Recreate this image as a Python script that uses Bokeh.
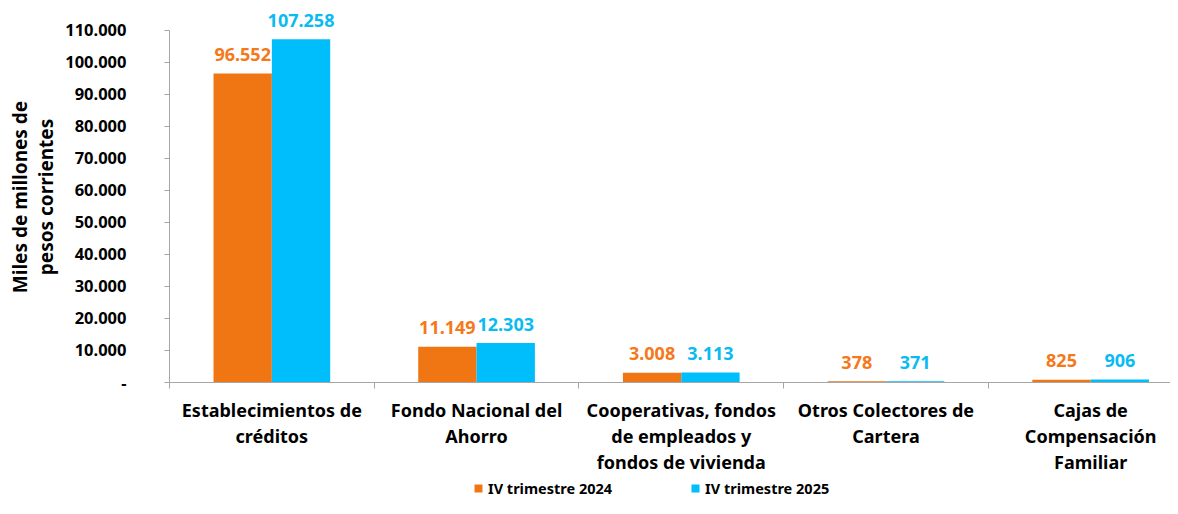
from bokeh.plotting import figure
from bokeh.layouts import column
from bokeh.models import Range1d, FixedTicker, Legend, LegendItem, ColumnDataSource
from bokeh.transform import dodge
from bokeh.core.properties import value
from bokeh.embed import file_html
from bokeh.resources import INLINE

categories = [
    "Establecimientos de\ncréditos",
    "Fondo Nacional del\nAhorro",
    "Cooperativas, fondos\nde empleados y\nfondos de vivienda",
    "Otros Colectores de\nCartera",
    "Cajas de\nCompensación\nFamiliar",
]
series_names = ["IV trimestre 2024", "IV trimestre 2025"]
values_2024 = [96552, 11149, 3008, 378, 825]
values_2025 = [107258, 12303, 3113, 371, 906]
y_ticks = [0, 10000, 20000, 30000, 40000, 50000, 60000, 70000, 80000, 90000, 100000, 110000]
y_tick_labels = ["-", "10.000", "20.000", "30.000", "40.000", "50.000", "60.000",
                 "70.000", "80.000", "90.000", "100.000", "110.000"]
y_title = "Miles de millones de\npesos corrientes"

FONT = "Noto Sans"
ORANGE = "#F07614"
BLUE = "#00BDFB"
ORANGE_TXT = "#F5781A"
BLUE_TXT = "#0ABBF2"
AXIS_GRAY = "#A6A6A6"


def fmt(v):
    return f"{v:,}".replace(",", ".")


xs = [i + 0.5 for i in range(len(categories))]
src = ColumnDataSource(dict(
    x=xs,
    v24=values_2024,
    v25=values_2025,
    l24=[fmt(v) for v in values_2024],
    l25=[fmt(v) for v in values_2025],
))

p = figure(width=1170, height=477,
           x_range=Range1d(0, 4.89), y_range=Range1d(0, 115900),
           output_backend="svg", toolbar_location=None,
           min_border_left=169, min_border_right=0,
           min_border_top=11, min_border_bottom=93)
p.xgrid.visible = False
p.ygrid.visible = False
p.outline_line_color = None
p.background_fill_color = "white"

BW = 0.285
p.vbar(x=dodge("x", -BW / 2, range=p.x_range), top="v24", width=BW,
       color=ORANGE, line_color=None, source=src)
p.vbar(x=dodge("x", BW / 2, range=p.x_range), top="v25", width=BW,
       color=BLUE, line_color=None, source=src)

for xoff, col, lab, c in [(-BW / 2, "v24", "l24", ORANGE_TXT), (BW / 2, "v25", "l25", BLUE_TXT)]:
    p.text(x=dodge("x", xoff, range=p.x_range), y=col, text=lab, source=src,
           text_align="center", text_baseline="alphabetic", y_offset=-19,
           text_font=value(FONT), text_font_style="bold", text_font_size="18px",
           text_color=c)

# x axis
xa = p.xaxis[0]
xa.ticker = FixedTicker(ticks=xs, minor_ticks=list(range(len(categories))))
xa.major_label_overrides = {x: c for x, c in zip(xs, categories)}
xa.major_tick_out = 0
xa.major_tick_in = 0
xa.minor_tick_out = 6
xa.minor_tick_in = 0
xa.minor_tick_line_color = AXIS_GRAY
xa.axis_line_color = AXIS_GRAY
xa.major_label_standoff = 9
xa.major_label_text_font = FONT
xa.major_label_text_font_style = "bold"
xa.major_label_text_font_size = "18px"
xa.major_label_text_color = "black"
xa.major_label_text_line_height = 1.1

# y axis
ya = p.yaxis[0]
ya.ticker = FixedTicker(ticks=y_ticks)
ya.major_label_overrides = {t: l for t, l in zip(y_ticks, y_tick_labels)}
ya.bounds = (0, 110000)
ya.major_tick_out = 5
ya.major_tick_in = 0
ya.minor_tick_line_color = None
ya.major_tick_line_color = AXIS_GRAY
ya.axis_line_color = AXIS_GRAY
ya.major_label_standoff = 38
ya.major_label_text_font = FONT
ya.major_label_text_font_style = "bold"
ya.major_label_text_font_size = "16.5px"
ya.major_label_text_color = "black"
ya.axis_label = y_title
ya.axis_label_standoff = 3
ya.axis_label_text_font = FONT
ya.axis_label_text_font_style = "bold"
ya.axis_label_text_font_size = "19px"
ya.axis_label_text_color = "black"
ya.axis_label_text_line_height = 1.0

# legend strip (separate small figure under the chart, frame aligned with the chart's frame)
lg = figure(width=1170, height=21, x_range=Range1d(0, 1), y_range=Range1d(0, 1),
            output_backend="svg", toolbar_location=None, min_border=0)
lg.axis.visible = False
lg.grid.visible = False
lg.outline_line_color = None
l1 = lg.vbar(x="x", top="v24", width=BW, color=ORANGE, line_color=None, source=src, visible=False)
l2 = lg.vbar(x="x", top="v25", width=BW, color=BLUE, line_color=None, source=src, visible=False)
legend = Legend(items=[LegendItem(label=series_names[0], renderers=[l1]),
                       LegendItem(label=series_names[1], renderers=[l2])],
                orientation="horizontal", location=(304, 0),
                glyph_width=10, glyph_height=10, label_standoff=5, spacing=78,
                padding=0, margin=0, border_line_color=None,
                background_fill_alpha=0,
                label_text_font=FONT, label_text_font_style="bold",
                label_text_font_size="14.5px", label_text_color="black",
                label_height=19)
lg.add_layout(legend)

open("out.html", "w").write(file_html(column(p, lg, spacing=0), INLINE))
